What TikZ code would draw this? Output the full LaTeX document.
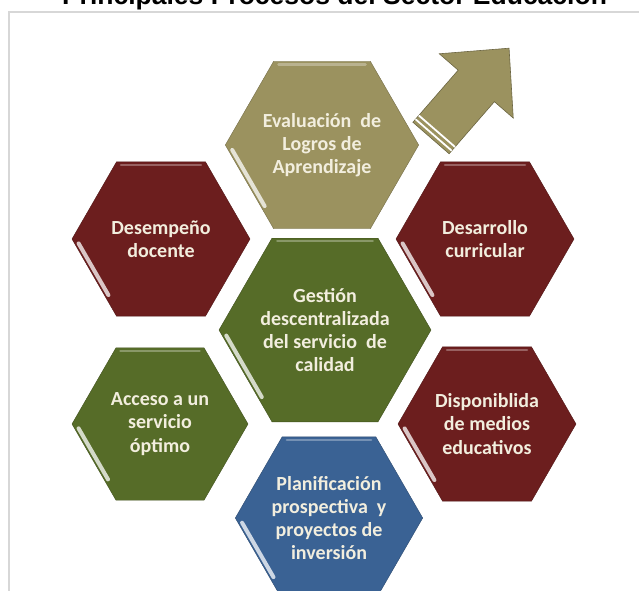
\documentclass[tikz,border=0pt]{standalone}
\usepackage{fontspec}
\setmainfont{Carlito}
\newfontfamily\titlefont{Liberation Sans}
\usetikzlibrary{shapes.geometric,calc}
\definecolor{olivo}{RGB}{155,146,95}
\definecolor{granate}{RGB}{108,30,30}
\definecolor{verde}{RGB}{86,108,40}
\definecolor{azul}{RGB}{58,98,148}
\definecolor{crema}{RGB}{242,238,222}
\definecolor{marcogris}{RGB}{215,215,215}
\tikzset{hexa/.style = {regular polygon, regular polygon sides=6, inner sep=0pt, outer sep=0pt, align=center, text=crema, font=\bfseries\fontsize{20}{23.3}\selectfont},
         brillo/.style = {line width=4pt, white, opacity=0.75, line cap=round},
         flecha/.style = {fill=olivo, draw=olivo!70!black, line width=0.6pt}}
\begin{document}
\begin{tikzpicture}[x=1pt,y=1pt]
    \clip(0,0)rectangle(639,590);
    \node[font=\titlefont\bfseries\fontsize{26.5}{30}\selectfont, anchor=base](titulo)at(334.5,585.5){Principales Procesos del Sector Educación};
    \draw[marcogris, line width=1.5pt](9,-5)--(9,578)--(650,578);
    % hexagonos
    \node[hexa, fill=olivo, draw=olivo!75!black, minimum size=184](eval)at(322,445){Evaluación\ \ de\\Logros de\\Aprendizaje};
    \node[hexa, fill=granate, draw=granate!75!black, minimum size=178](desem)at(161,351){Desempeño\\docente};
    \node[hexa, fill=granate, draw=granate!75!black, minimum size=178](desa)at(485,351){Desarrollo\\curricular};
    \node[hexa, fill=verde, draw=verde!75!black, minimum size=212](gest)at(325,260){Gestión\\descentralizada\\del servicio\ \ de\\calidad};
    \node[hexa, fill=verde, draw=verde!75!black, minimum size=176](acc)at(160,166){Acceso a un\\servicio\\óptimo};
    \node[hexa, fill=granate, draw=granate!75!black, minimum size=178](disp)at(487,166){Disponiblida\\de medios\\educativos};
    \node[hexa, fill=azul, draw=azul!75!black, minimum size=184](plan)at(329,72){Planificación\\prospectiva\ \ y\\proyectos de\\inversión};
    \foreach \n in {eval,desem,desa,gest,acc,disp,plan}{
        \draw[brillo]($(\n.corner 3)!0.08!(\n.corner 4)+(30:3.5)$)--($(\n.corner 3)!0.75!(\n.corner 4)+(30:3.5)$);
        \draw[brillo, opacity=0.3, line width=2.5pt]($(\n.corner 2)!0.05!(\n.corner 1)+(0,-3)$)--($(\n.corner 2)!0.95!(\n.corner 1)+(0,-3)$);
    }
    % flecha
    \begin{scope}[shift={(431,452)},rotate=49]
        \draw[flecha](0,-24)--(69,-24)--(69,-49)--(119,0)--(69,49)--(69,24)--(0,24)--cycle;
        \draw[white,line width=1.8pt](4,-24)--(4,24)(9,-24)--(9,24);
    \end{scope}
\end{tikzpicture}
\end{document}
